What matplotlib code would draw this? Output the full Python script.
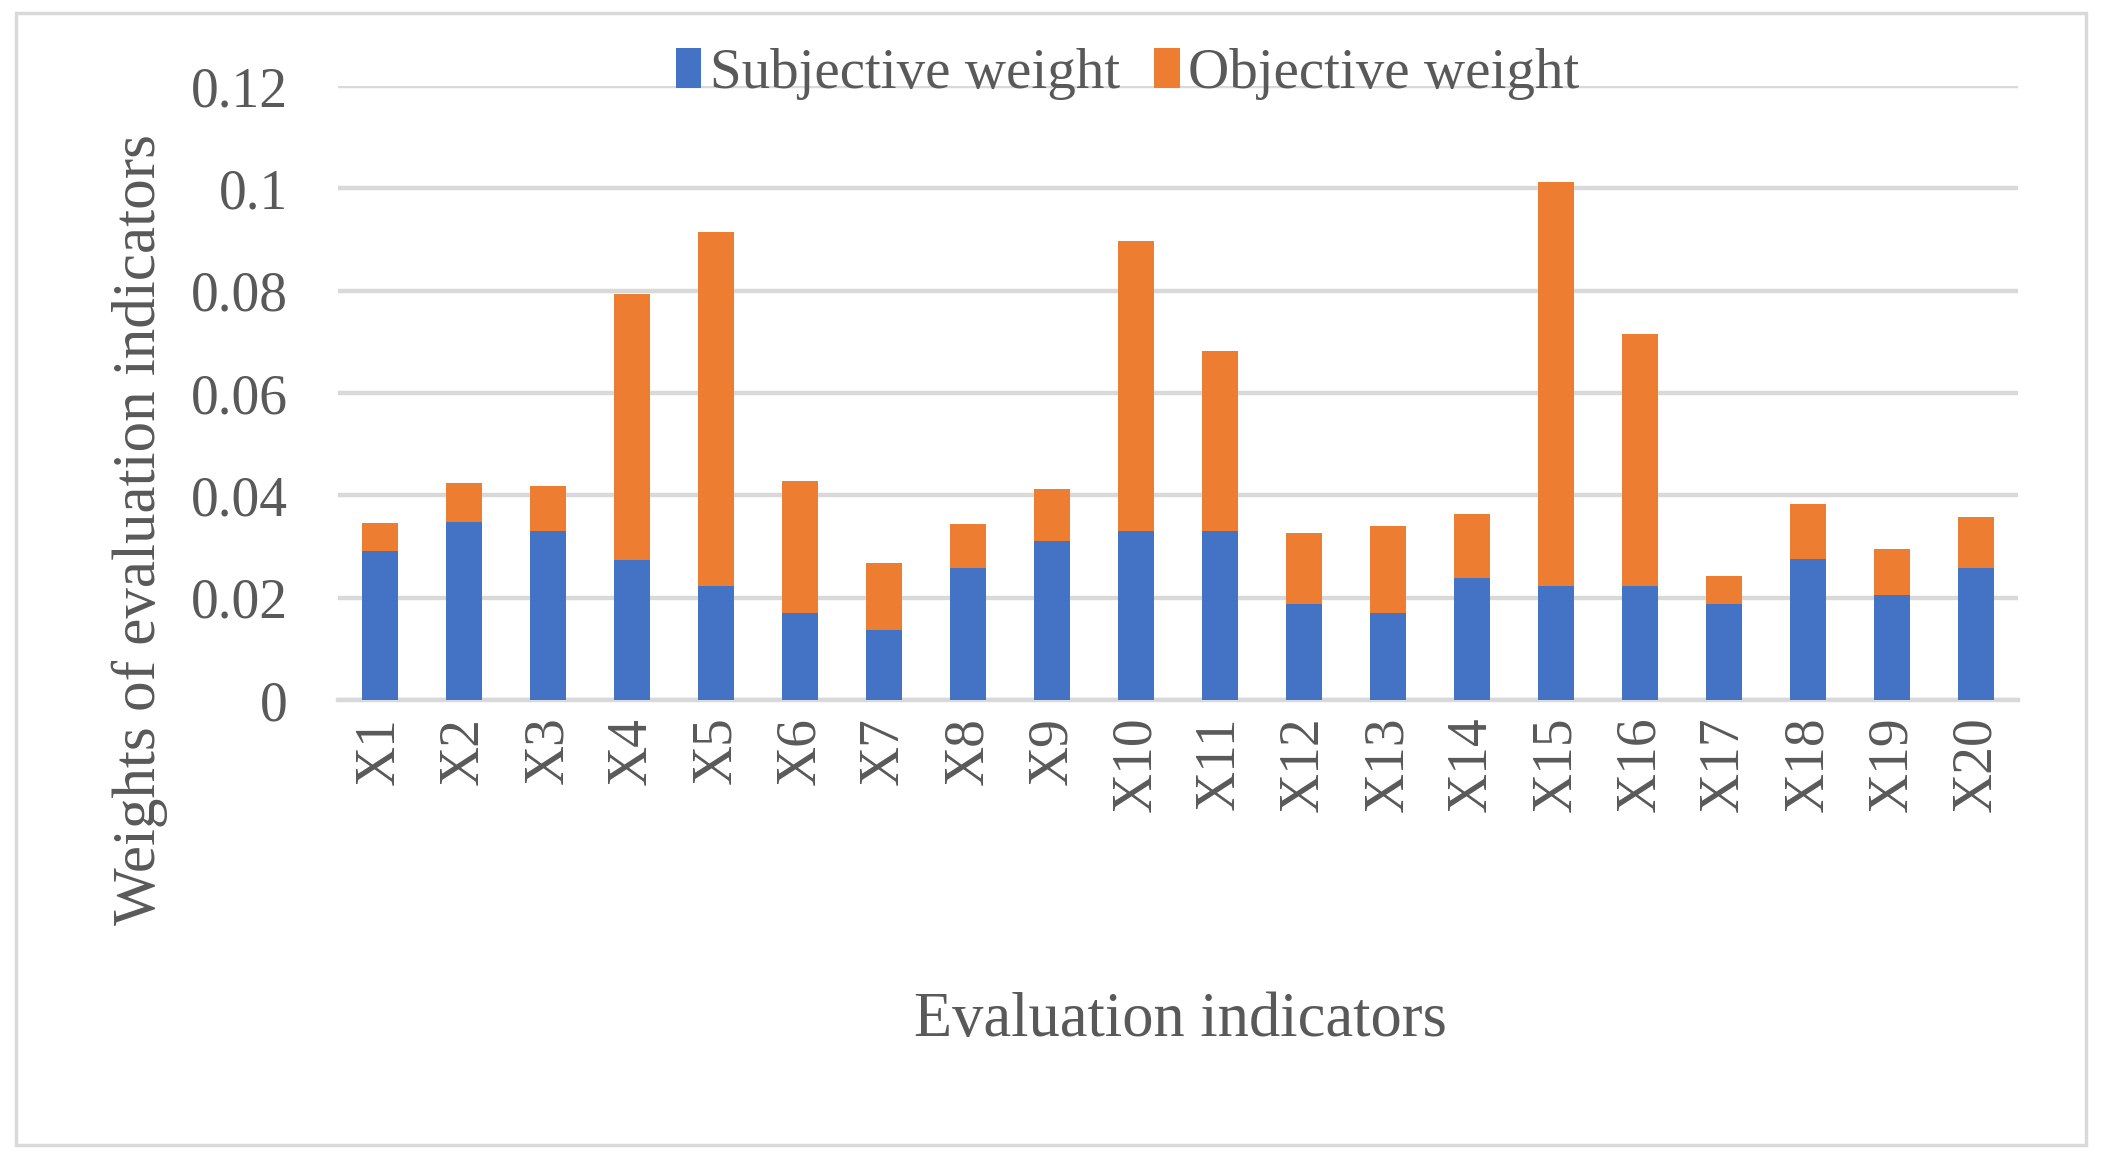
import numpy as np
import matplotlib.pyplot as plt
from matplotlib.patches import Rectangle

# Poids des indicateurs d'évaluation
labels = ['X' + str(i) for i in range(1, 21)]
subjective = [0.0292, 0.0347, 0.0330, 0.0274, 0.0222, 0.0171, 0.0137, 0.0258, 0.0310, 0.0330,
              0.0330, 0.0187, 0.0171, 0.0239, 0.0223, 0.0222, 0.0187, 0.0275, 0.0205, 0.0258]
total = [0.0346, 0.0424, 0.0418, 0.0794, 0.0914, 0.0428, 0.0268, 0.0344, 0.0412, 0.0898,
         0.0682, 0.0327, 0.0341, 0.0363, 0.1012, 0.0716, 0.0242, 0.0383, 0.0295, 0.0357]
objective = [round(t - s, 4) for t, s in zip(total, subjective)]
yticks = [0, 0.02, 0.04, 0.06, 0.08, 0.1, 0.12]
ytick_labels = ['0', '0.02', '0.04', '0.06', '0.08', '0.1', '0.12']

plt.rcParams['font.family'] = ['Liberation Serif', 'DejaVu Serif']
grey_txt = '#595959'
grid_col = '#d9d9d9'

fig = plt.figure(figsize=(21.02, 11.58), dpi=100)
ax = fig.add_axes([0.1608, 0.3955, 0.7992, 0.5302])

x = np.arange(len(labels))
ax.bar(x, subjective, width=0.42, color='#4472c4', label='Subjective weight', zorder=3)
ax.bar(x, objective, width=0.42, bottom=subjective, color='#ed7d31', label='Objective weight', zorder=3)

ax.set_xlim(-0.5, len(labels) - 0.5)
ax.set_ylim(0, 0.12)
ax.set_yticks(yticks)
ax.set_yticklabels(ytick_labels)
ax.set_xticks(x)
ax.set_xticklabels(labels, rotation=90)
ax.tick_params(axis='y', length=0, pad=36, labelsize=40, labelcolor=grey_txt)
ax.tick_params(axis='x', length=0, pad=12, labelsize=40, labelcolor=grey_txt)

ax.grid(axis='y', color=grid_col, linewidth=3.2, zorder=0)
for s in ['top', 'right', 'left']:
    ax.spines[s].set_visible(False)
ax.spines['bottom'].set_color(grid_col)
ax.spines['bottom'].set_linewidth(3.2)

fig.text(0.5615, 0.118, 'Evaluation indicators', ha='center', va='center',
         fontsize=45, color=grey_txt)
fig.text(0.0665, 0.543, 'Weights of evaluation indicators', ha='center', va='center',
         rotation=90, fontsize=44, color=grey_txt)

ax.legend(loc='center', bbox_to_anchor=(0.47, 1.02), ncol=2, frameon=False,
          fontsize=41, labelcolor=grey_txt, handlelength=0.45, handleheight=0.7,
          handletextpad=0.15, columnspacing=0.6, borderaxespad=0)

fig.add_artist(Rectangle((0.0076, 0.0112), 0.9848, 0.9776, transform=fig.transFigure,
                         fill=False, edgecolor=grid_col, linewidth=2.5))

fig.savefig('out.png', dpi=100)
